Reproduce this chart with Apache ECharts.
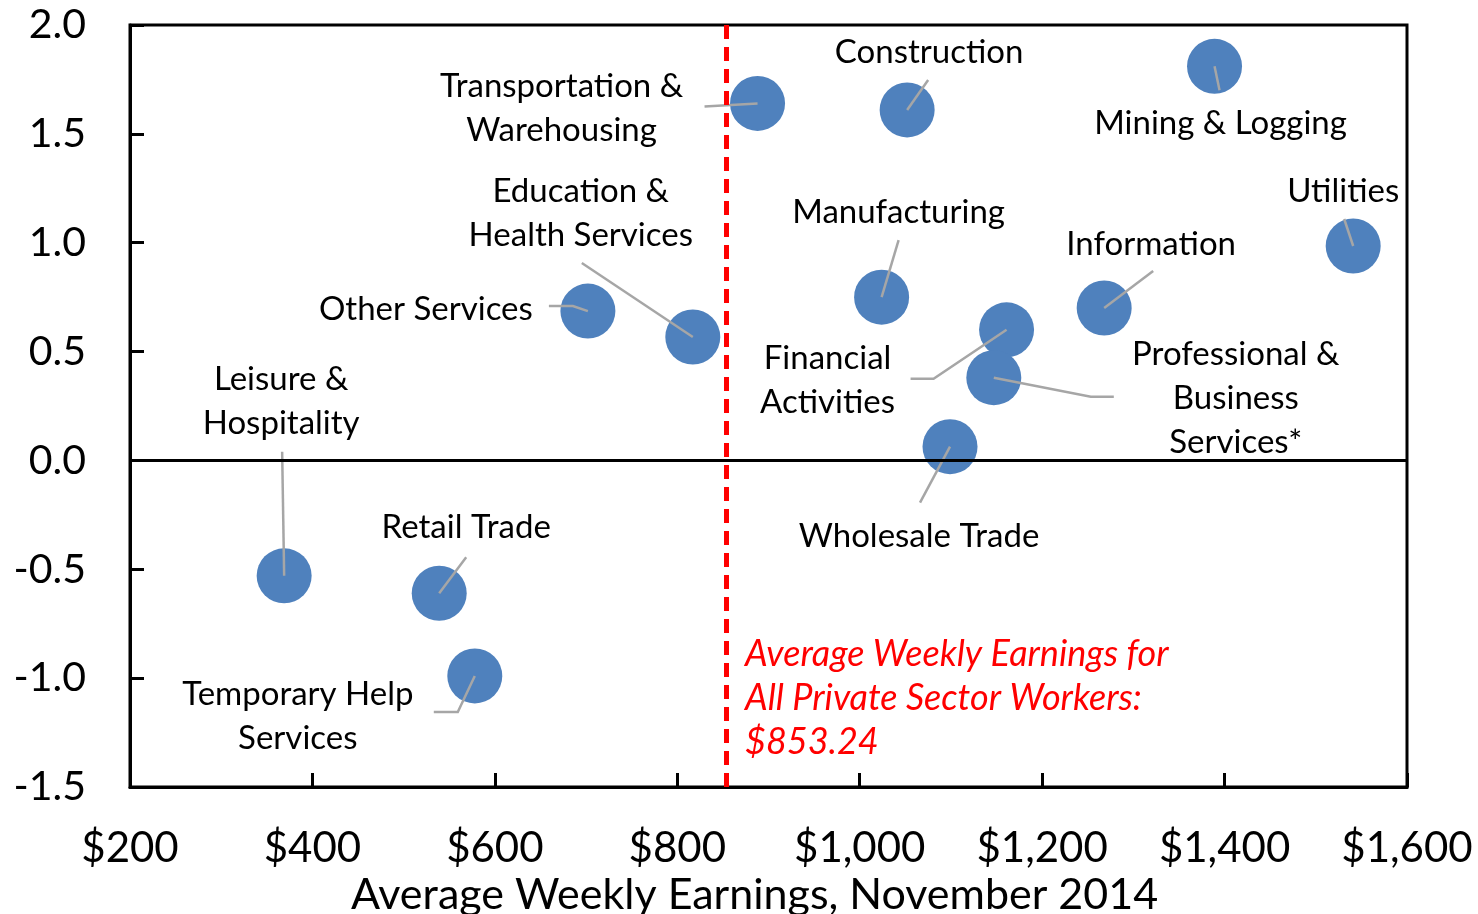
<!DOCTYPE html>
<html>
<head>
<meta charset="utf-8">
<title>Job growth vs average weekly earnings</title>
<script src="https://cdn.jsdelivr.net/npm/echarts@6.0.0/dist/echarts.min.js"></script>
<style>
  html, body { margin: 0; padding: 0; background: #fff; }
  #chart { width: 1478px; height: 914px; }
</style>
</head>
<body>
<div id="chart"></div>
<script>
// Data
const sectors = [
  "Transportation &\nWarehousing",
  "Construction",
  "Mining & Logging",
  "Utilities",
  "Information",
  "Manufacturing",
  "Financial\nActivities",
  "Professional &\nBusiness\nServices*",
  "Wholesale Trade",
  "Education &\nHealth Services",
  "Other Services",
  "Leisure &\nHospitality",
  "Retail Trade",
  "Temporary Help\nServices"
];
const earnings = [888, 1052, 1389, 1541, 1268, 1024, 1161, 1147, 1099, 817, 702, 369, 539, 578];
const growth = [1.64, 1.61, 1.81, 0.985, 0.70, 0.75, 0.60, 0.38, 0.063, 0.567, 0.686, -0.53, -0.61, -0.99];
const avgEarnings = 853.24;
const avgNote = "Average Weekly Earnings for\nAll Private Sector Workers:\n$853.24";
const xTicks = [200, 400, 600, 800, 1000, 1200, 1400, 1600];
const yTicks = [-1.5, -1.0, -0.5, 0.0, 0.5, 1.0, 1.5, 2.0];

// Label placement (pixels from the marker centre) and leader line bends
const labelOffset = [
  [-196, 5], [22, -58], [6, 57], [-10, -55], [47, -64], [17, -85], [-179, 51],
  [242, 21], [-31, 90], [-112, -124], [-162, -2], [-3, -174], [27, -66], [-177, 40]
];
const leaderPath = [
  [[-53, 3]],
  [[21, -30]],
  [[5, 24]],
  [[-9, -27]],
  [[49, -37]],
  [[17, -57]],
  [[-73, 49], [-96, 49]],
  [[97, 19], [120, 19]],
  [[-30, 56]],
  [[-111, -74]],
  [[-15, -5], [-39, -5]],
  [[-2, -124]],
  [[27, -36]],
  [[-17, 36], [-41, 36]]
];

const FONT = "Lato";
const points = earnings.map((e, i) => [e, growth[i]]);

const chart = echarts.init(document.getElementById("chart"));

const option = {
  animation: false,
  textStyle: { fontFamily: FONT, color: "#000" },
  grid: {
    left: 130,
    right: 71,
    top: 25,
    bottom: 127,
    outerBoundsMode: "none",
    show: true,
    borderColor: "#000",
    borderWidth: 3,
    backgroundColor: "transparent"
  },
  xAxis: {
    type: "value",
    min: xTicks[0],
    max: xTicks[xTicks.length - 1],
    interval: 200,
    name: "Average Weekly Earnings, November 2014",
    nameLocation: "middle",
    nameGap: 84,
    nameTextStyle: { fontSize: 43, color: "#000", fontFamily: FONT, padding: [0, 28, 0, 0] },
    axisLine: { onZero: false, lineStyle: { color: "#000", width: 3 } },
    axisTick: { inside: true, length: 14, lineStyle: { color: "#000", width: 3 } },
    axisLabel: {
      margin: 40,
      fontSize: 42,
      color: "#000",
      formatter: (v) => "$" + v.toLocaleString("en-US")
    },
    splitLine: { show: false }
  },
  yAxis: {
    type: "value",
    min: yTicks[0],
    max: yTicks[yTicks.length - 1],
    interval: 0.5,
    axisLine: { show: true, lineStyle: { color: "#000", width: 3 } },
    axisTick: { show: true, inside: true, length: 14, lineStyle: { color: "#000", width: 3 } },
    axisLabel: {
      margin: 44,
      fontSize: 41,
      color: "#000",
      formatter: (v) => v.toFixed(1)
    },
    splitLine: { show: false }
  },
  graphic: [
    {
      type: "text",
      left: 745,
      top: 632,
      z: 10,
      style: {
        text: avgNote,
        fill: "#FF0000",
        fontFamily: FONT,
        fontStyle: "italic",
        fontSize: 36,
        lineHeight: 44
      }
    }
  ],
  series: [
    {
      name: "Sectors",
      type: "scatter",
      data: points,
      symbolSize: 55,
      itemStyle: { color: "#4F81BD", opacity: 1 },
      z: 2
    },
    {
      name: "Labels",
      type: "custom",
      data: points,
      z: 3,
      encode: { x: 0, y: 1 },
      renderItem: function (params, api) {
        const i = params.dataIndex;
        const c = api.coord([api.value(0), api.value(1)]);
        const pts = [c].concat(leaderPath[i].map((p) => [c[0] + p[0], c[1] + p[1]]));
        const off = labelOffset[i];
        return {
          type: "group",
          children: [
            {
              type: "polyline",
              shape: { points: pts },
              style: { stroke: "#A6A6A6", lineWidth: 2.5, fill: null }
            },
            {
              type: "text",
              x: c[0] + off[0],
              y: c[1] + off[1],
              style: {
                text: sectors[i],
                fill: "#000",
                fontFamily: FONT,
                fontSize: 33,
                lineHeight: 44,
                align: "center",
                verticalAlign: "middle"
              }
            }
          ]
        };
      },
      markLine: {
        silent: true,
        symbol: "none",
        label: { show: false },
        data: [
          { xAxis: avgEarnings, lineStyle: { color: "#FF0000", width: 5, type: [14, 8] } },
          { yAxis: 0, lineStyle: { color: "#000", width: 3, type: "solid" } }
        ]
      }
    }
  ]
};

chart.setOption(option);
</script>
</body>
</html>
